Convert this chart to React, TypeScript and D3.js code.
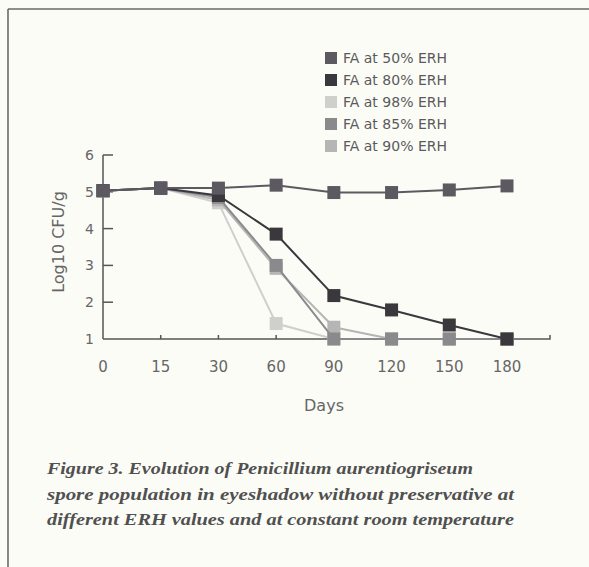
import React from "react";
import * as d3 from "d3";

const days = ["0", "15", "30", "60", "90", "120", "150", "180"];
const yTicks = [1, 2, 3, 4, 5, 6];
const seriesNames = ["FA at 50% ERH", "FA at 80% ERH", "FA at 98% ERH", "FA at 85% ERH", "FA at 90% ERH"];
const seriesColors = ["#5c5a60", "#3a383d", "#cfcfcc", "#8a898c", "#b5b5b5"];
const fa50 = [5.03, 5.1, 5.1, 5.18, 4.98, 4.98, 5.05, 5.16];
const fa80 = [5.03, 5.1, 4.9, 3.85, 2.18, 1.79, 1.38, 1.0];
const fa98 = [5.03, 5.1, 4.7, 1.42, 1.0, 1.0, 1.0, 1.0];
const fa85 = [5.03, 5.1, 4.85, 3.0, 1.0, 1.0, 1.0, 1.0];
const fa90 = [5.03, 5.1, 4.78, 2.92, 1.32, 1.0, 1.0, 1.0];
const seriesValues = [fa50, fa80, fa98, fa85, fa90];
const drawOrder = [2, 4, 3, 1, 0];
const captionLines = [
  "Figure 3. Evolution of Penicillium aurentiogriseum",
  "spore population in eyeshadow without preservative at",
  "different ERH values and at constant room temperature",
];

export default function App() {
  const x = d3.scalePoint<string>().domain(days).range([103, 507]);
  const y = d3.scaleLinear().domain([1, 6]).range([339, 155]);
  const line = d3
    .line<number>()
    .x((_, i) => x(days[i]) as number)
    .y((d) => y(d));
  const axisColor = "#555";
  const ms = 13;
  const x0 = x(days[0]) as number;
  return (
    <svg
      width={589}
      height={567}
      style={{ position: "absolute", left: 0, top: 0, background: "#fcfcf7" }}
      fontFamily="'DejaVu Sans', Verdana, sans-serif"
    >
      <rect x={0} y={0} width={589} height={567} fill="#fcfcf7" />
      {/* frame */}
      <line x1={8} y1={9} x2={589} y2={9} stroke="#6a6a6a" strokeWidth={1.6} />
      <line x1={8} y1={9} x2={8} y2={567} stroke="#6a6a6a" strokeWidth={1.6} />

      {/* legend */}
      {seriesNames.map((n, i) => (
        <g key={n} transform={`translate(325, ${52 + i * 22})`}>
          <rect x={0} y={0} width={12} height={12} fill={seriesColors[i]} />
          <text x={18} y={11} fontSize={14} fill="#5a5a5a">
            {n}
          </text>
        </g>
      ))}

      {/* axes */}
      <line x1={x0} y1={y(6)} x2={x0} y2={y(1)} stroke={axisColor} strokeWidth={1.5} />
      <path d={`M${x0},${y(1)}H550V${y(1) - 4}`} fill="none" stroke={axisColor} strokeWidth={1.5} />
      {yTicks.map((t) => (
        <g key={t}>
          {t > 1 && <line x1={x0} x2={x0 + 10} y1={y(t)} y2={y(t)} stroke={axisColor} strokeWidth={1.5} />}
          <text x={94} y={y(t) + 5} fontSize={14} fill="#666" textAnchor="end">
            {t}
          </text>
        </g>
      ))}
      {days.map((d, i) => (
        <g key={d}>
          {i > 0 && (
            <line x1={x(d)} x2={x(d)} y1={y(1)} y2={y(1) - 4} stroke={axisColor} strokeWidth={1.5} />
          )}
          <text x={x(d)} y={372} fontSize={15} fill="#666" textAnchor="middle">
            {d}
          </text>
        </g>
      ))}
      <text x={324} y={411} fontSize={16} fill="#666" textAnchor="middle">
        Days
      </text>
      <text
        transform={`translate(64, 242) rotate(-90)`}
        fontSize={16}
        fill="#666"
        textAnchor="middle"
      >
        Log10 CFU/g
      </text>

      {/* series */}
      {drawOrder.map((si) => (
        <g key={si}>
          <path d={line(seriesValues[si]) || ""} fill="none" stroke={seriesColors[si]} strokeWidth={2} />
          {seriesValues[si].map((v, i) => (
            <rect
              key={i}
              x={(x(days[i]) as number) - ms / 2}
              y={y(v) - ms / 2}
              width={ms}
              height={ms}
              fill={seriesColors[si]}
            />
          ))}
        </g>
      ))}

      {/* caption */}
      {captionLines.map((c, i) => (
        <text
          key={i}
          x={47}
          y={474 + i * 25.5}
          fontSize={16}
          fontFamily="Liberation Serif, 'DejaVu Serif', serif"
          fontStyle="italic"
          fontWeight="bold"
          fill="#505050"
          textLength={i === 0 ? 426 : 467}
          lengthAdjust="spacingAndGlyphs"
        >
          {c}
        </text>
      ))}
    </svg>
  );
}
